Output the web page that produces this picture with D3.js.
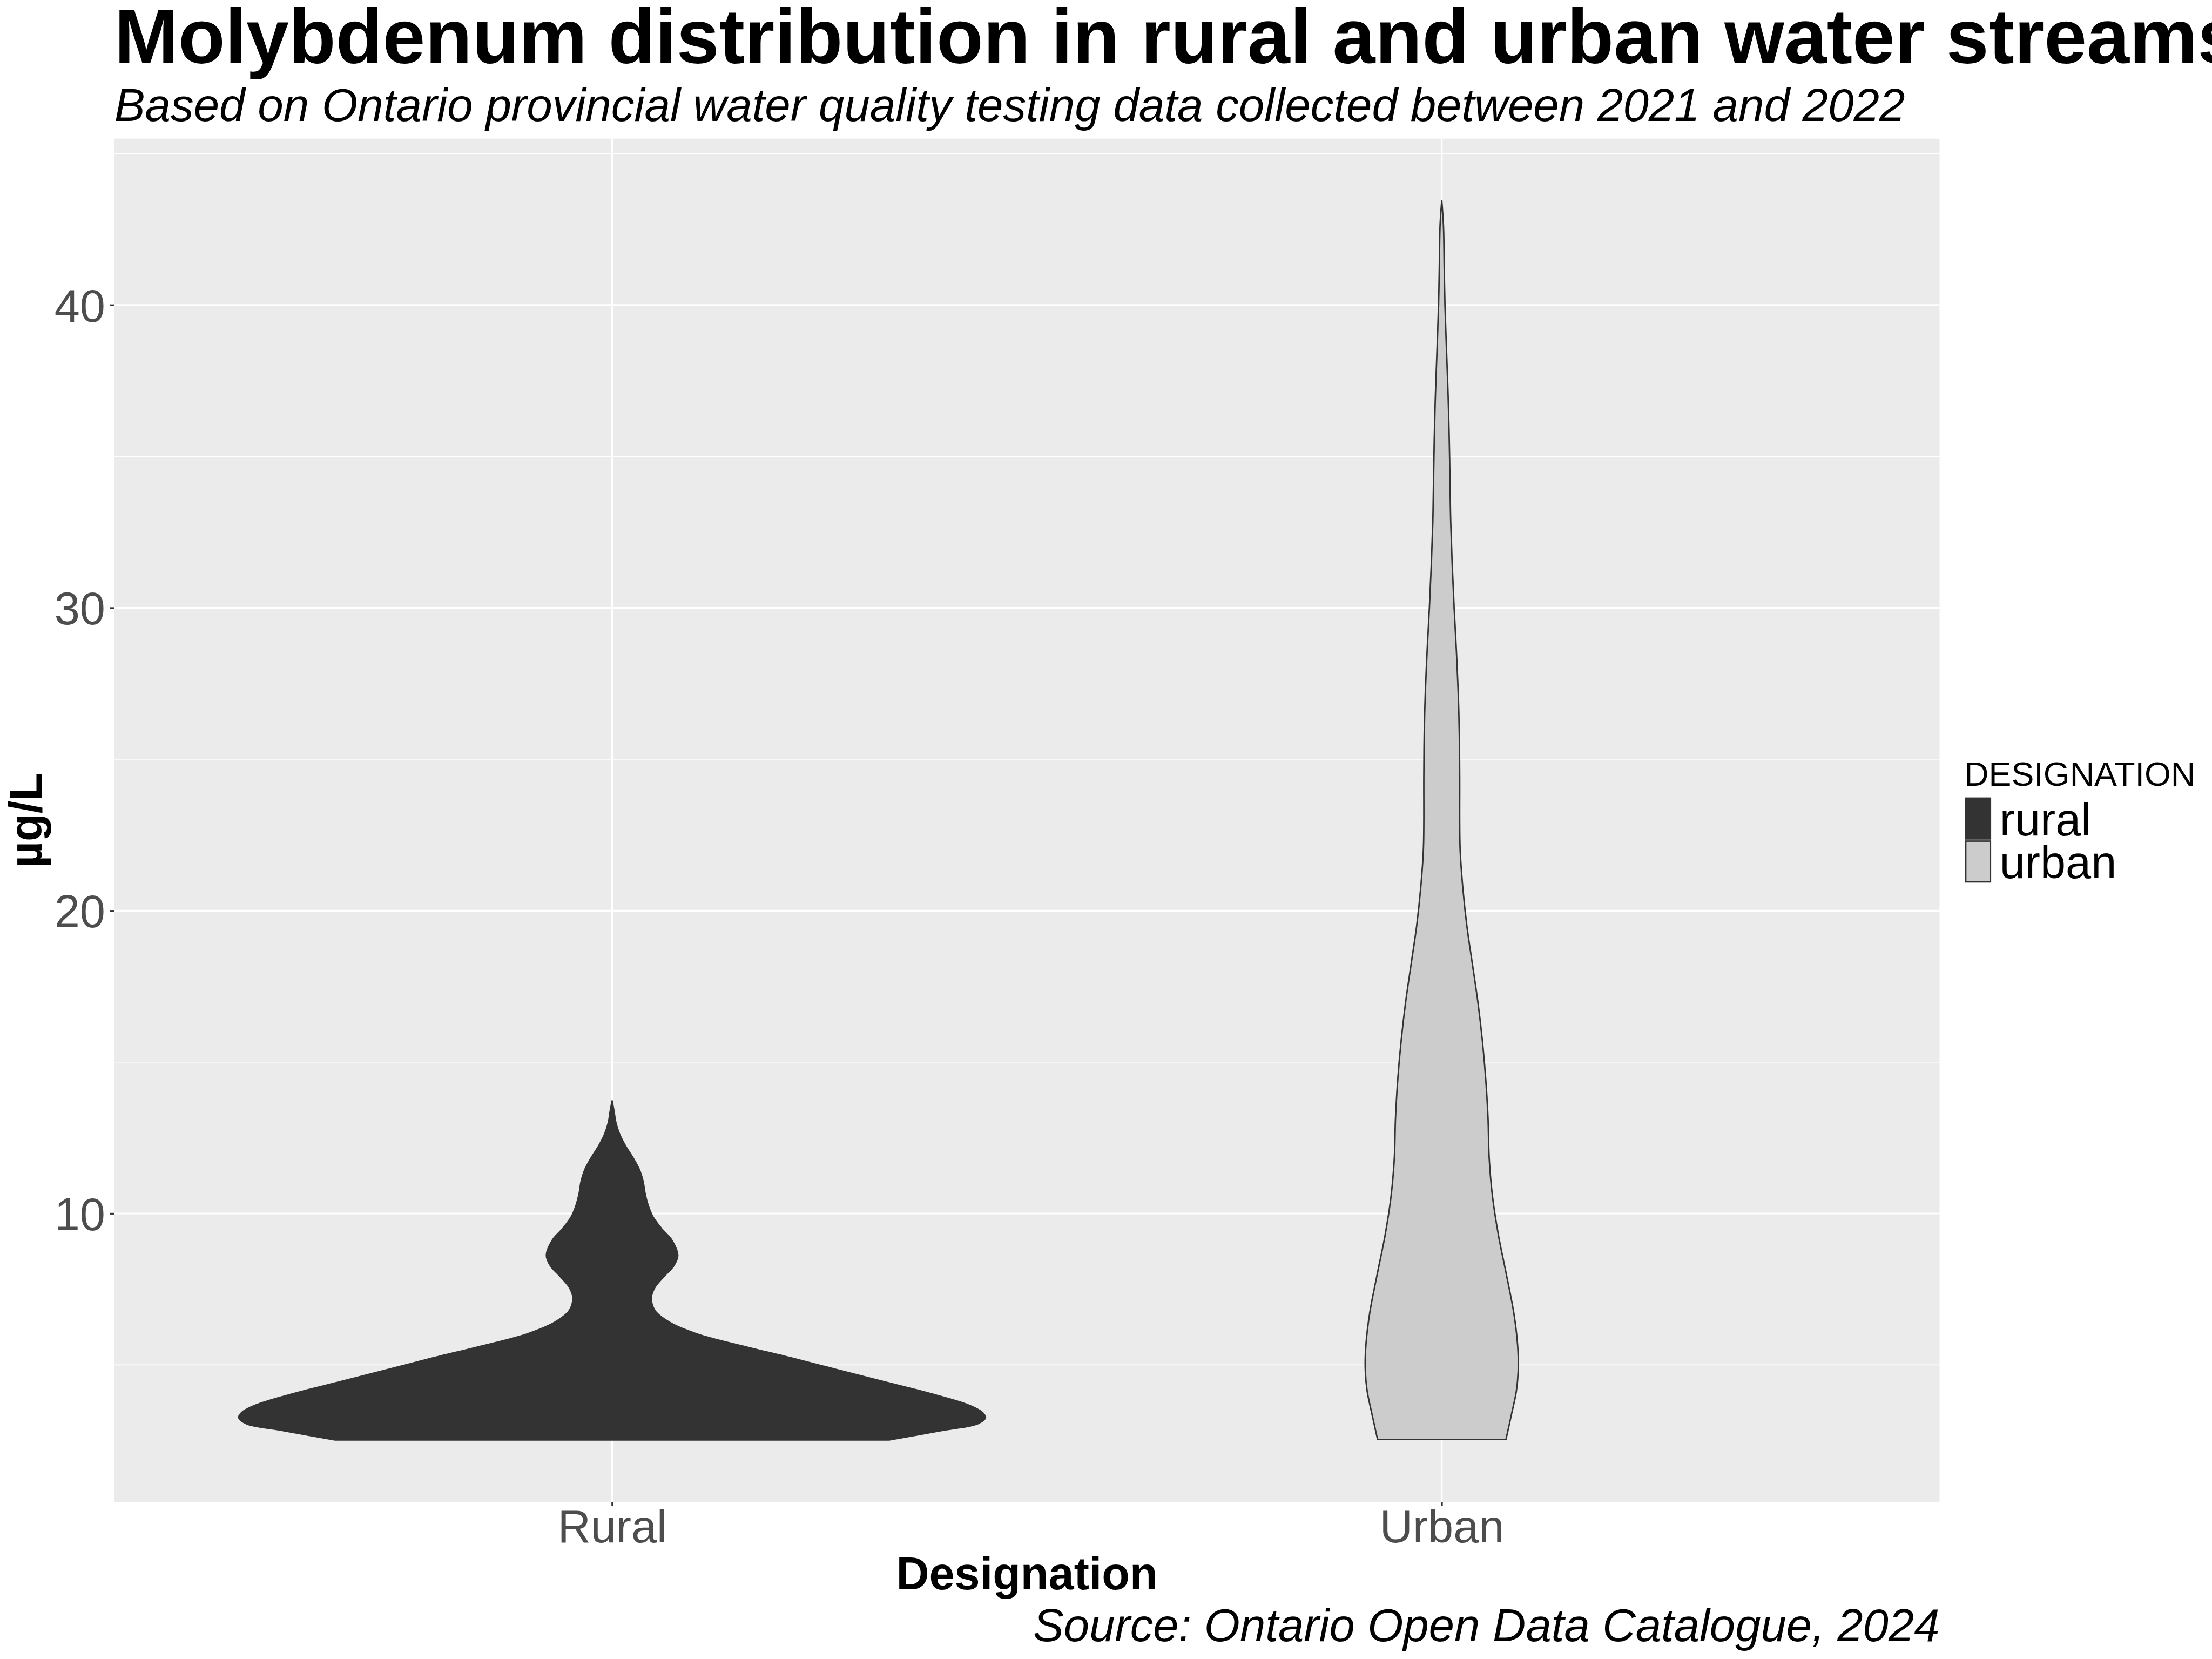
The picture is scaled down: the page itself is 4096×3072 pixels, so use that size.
<!DOCTYPE html>
<html>
<head>
<meta charset="utf-8">
<script src="https://cdn.jsdelivr.net/npm/d3@7"></script>
<style>
  html, body { margin: 0; padding: 0; background: #ffffff; }
  svg { display: block; }
  text { font-family: "Liberation Sans", Arial, Helvetica, sans-serif; }
</style>
</head>
<body>
<svg id="chart" width="4096" height="3072" viewBox="0 0 6000 4500"></svg>
<script>
// ---------------- DATA ----------------
const categories = ["Rural", "Urban"];
const legendLabels = ["rural", "urban"];
const fillColors = ["#333333", "#CCCCCC"];

// Rural violin: Mo concentration (µg/L) and relative density (violin width, max = 1)
const ruralValues  = [2.52, 2.83, 3.06, 3.26, 3.45, 3.68, 4.07, 4.46, 4.85, 5.24, 5.63, 6.02, 6.40, 6.79, 7.22, 7.57, 7.96, 8.27, 8.62, 9.12, 9.51, 9.90, 10.29, 10.68, 11.06, 11.45, 11.84, 12.23, 12.62, 13.01, 13.39, 13.72];
const ruralDensity = [0.742, 0.881, 0.980, 1.000, 0.990, 0.954, 0.848, 0.723, 0.600, 0.477, 0.347, 0.228, 0.155, 0.115, 0.105, 0.115, 0.142, 0.165, 0.176, 0.160, 0.132, 0.109, 0.096, 0.088, 0.083, 0.073, 0.056, 0.036, 0.020, 0.010, 0.005, 0.000];

// Urban violin
const urbanValues  = [2.54, 3.38, 4.15, 4.91, 5.68, 6.71, 7.99, 9.27, 10.55, 11.84, 13.12, 14.40, 15.68, 16.96, 18.24, 19.52, 20.81, 22.09, 24.44, 25.84, 27.23, 28.63, 30.03, 31.43, 32.83, 34.23, 35.62, 37.02, 38.42, 39.99, 41.22, 42.61, 43.45];
const urbanDensity = [0.172, 0.187, 0.200, 0.205, 0.203, 0.193, 0.173, 0.152, 0.136, 0.127, 0.124, 0.118, 0.109, 0.097, 0.082, 0.067, 0.056, 0.049, 0.048, 0.047, 0.044, 0.039, 0.033, 0.028, 0.024, 0.022, 0.020, 0.017, 0.013, 0.0086, 0.0066, 0.0046, 0.000];

const yMajorTicks = [10, 20, 30, 40];
const yMinorTicks = [5, 15, 25, 35, 45];

const titleText = "Molybdenum distribution in rural and urban water streams";
const subtitleText = "Based on Ontario provincial water quality testing data collected between 2021 and 2022";
const captionText = "Source: Ontario Open Data Catalogue, 2024";
const xTitleText = "Designation";
const yTitleText = "µg/L";
const legendTitleText = "DESIGNATION";

// ---------------- LAYOUT (reference pixel units; viewBox scales to window) ----------------
const panel = { left: 310, right: 5261, top: 376, bottom: 4074 };

const svg = d3.select("#chart");
svg.append("rect").attr("x", 0).attr("y", 0).attr("width", 6000).attr("height", 4500).attr("fill", "#ffffff");

// scales
const allVals = ruralValues.concat(urbanValues);
const [vmin, vmax] = d3.extent(allVals);
const pad = (vmax - vmin) * 0.05;
const y = d3.scaleLinear().domain([vmin - pad, vmax + pad]).range([panel.bottom, panel.top]);
const x = d3.scalePoint().domain(categories).range([panel.left, panel.right]).padding(0.6);
const halfMax = 0.45 * x.step();

// panel background
svg.append("rect")
  .attr("x", panel.left).attr("y", panel.top)
  .attr("width", panel.right - panel.left).attr("height", panel.bottom - panel.top)
  .attr("fill", "#EBEBEB");

// grid
const grid = svg.append("g");
grid.selectAll("line.minor").data(yMinorTicks).join("line")
  .attr("x1", panel.left).attr("x2", panel.right)
  .attr("y1", d => y(d)).attr("y2", d => y(d))
  .attr("stroke", "#ffffff").attr("stroke-width", 2.3);
grid.selectAll("line.majory").data(yMajorTicks).join("line")
  .attr("x1", panel.left).attr("x2", panel.right)
  .attr("y1", d => y(d)).attr("y2", d => y(d))
  .attr("stroke", "#ffffff").attr("stroke-width", 4.6);
grid.selectAll("line.majorx").data(categories).join("line")
  .attr("x1", d => x(d)).attr("x2", d => x(d))
  .attr("y1", panel.top).attr("y2", panel.bottom)
  .attr("stroke", "#ffffff").attr("stroke-width", 4.6);

// violins
const violins = [
  { cat: categories[0], values: ruralValues, density: ruralDensity, fill: fillColors[0] },
  { cat: categories[1], values: urbanValues, density: urbanDensity, fill: fillColors[1] }
];
violins.forEach(v => {
  const cx = x(v.cat);
  const pts = v.values.map((val, i) => ({ val, w: v.density[i] }));
  const area = d3.area()
    .y(d => y(d.val))
    .x0(d => cx - d.w * halfMax)
    .x1(d => cx + d.w * halfMax)
    .curve(d3.curveCatmullRom.alpha(0.5));
  svg.append("path")
    .attr("d", area(pts))
    .attr("fill", v.fill)
    .attr("stroke", "#333333")
    .attr("stroke-width", 4)
    .attr("stroke-linejoin", "round");
});

// axes
const yAxis = svg.append("g")
  .attr("transform", `translate(${panel.left},0)`)
  .call(d3.axisLeft(y).tickValues(yMajorTicks).tickSize(11.5).tickPadding(13).tickFormat(d3.format("d")));
yAxis.select(".domain").remove();
yAxis.selectAll(".tick line").attr("stroke", "#333333").attr("stroke-width", 4.6);
yAxis.selectAll(".tick text")
  .attr("fill", "#4D4D4D").attr("font-size", 124)
  .attr("font-family", "'Liberation Sans', Arial, sans-serif")
  .attr("dy", "0.36em");

const xAxis = svg.append("g")
  .attr("transform", `translate(0,${panel.bottom})`)
  .call(d3.axisBottom(x).tickSize(11.5).tickPadding(22));
xAxis.select(".domain").remove();
xAxis.selectAll(".tick line").attr("stroke", "#333333").attr("stroke-width", 4.6);
xAxis.selectAll(".tick text")
  .attr("fill", "#4D4D4D").attr("font-size", 124)
  .attr("font-family", "'Liberation Sans', Arial, sans-serif")
  .attr("dy", null)
  .attr("y", 4184.3 - panel.bottom);

// titles
svg.append("text")
  .attr("x", panel.left).attr("y", 171.7)
  .attr("font-size", 208).attr("font-weight", "bold").attr("fill", "#000000")
  .text(titleText);
svg.append("text")
  .attr("x", panel.left).attr("y", 328.3)
  .attr("font-size", 125).attr("font-style", "italic").attr("fill", "#000000")
  .text(subtitleText);
svg.append("text")
  .attr("x", (panel.left + panel.right) / 2).attr("y", 4311.7)
  .attr("text-anchor", "middle")
  .attr("font-size", 124).attr("font-weight", "bold").attr("fill", "#000000")
  .text(xTitleText);
svg.append("text")
  .attr("transform", `translate(113,${(panel.top + panel.bottom) / 2}) rotate(-90)`)
  .attr("text-anchor", "middle")
  .attr("font-size", 124).attr("font-weight", "bold").attr("fill", "#000000")
  .text(yTitleText);
svg.append("text")
  .attr("x", panel.right).attr("y", 4451.7)
  .attr("text-anchor", "end")
  .attr("font-size", 124.6).attr("font-style", "italic").attr("fill", "#000000")
  .text(captionText);

// legend
const legend = svg.append("g");
legend.append("text")
  .attr("x", 5328).attr("y", 2131)
  .attr("font-size", 92).attr("fill", "#000000")
  .text(legendTitleText);
const keyTop = 2163, keyH = 116.5, keyW = 71, keyX = 5330;
legendLabels.forEach((lab, i) => {
  legend.append("rect")
    .attr("x", keyX + 2).attr("y", keyTop + i * keyH + 2)
    .attr("width", keyW - 4).attr("height", keyH - 6)
    .attr("fill", fillColors[i]).attr("stroke", "#333333").attr("stroke-width", 4);
  legend.append("text")
    .attr("x", 5424).attr("y", 2266 + i * 115.7)
    .attr("font-size", 124).attr("fill", "#000000")
    .text(lab);
});
</script>
</body>
</html>
